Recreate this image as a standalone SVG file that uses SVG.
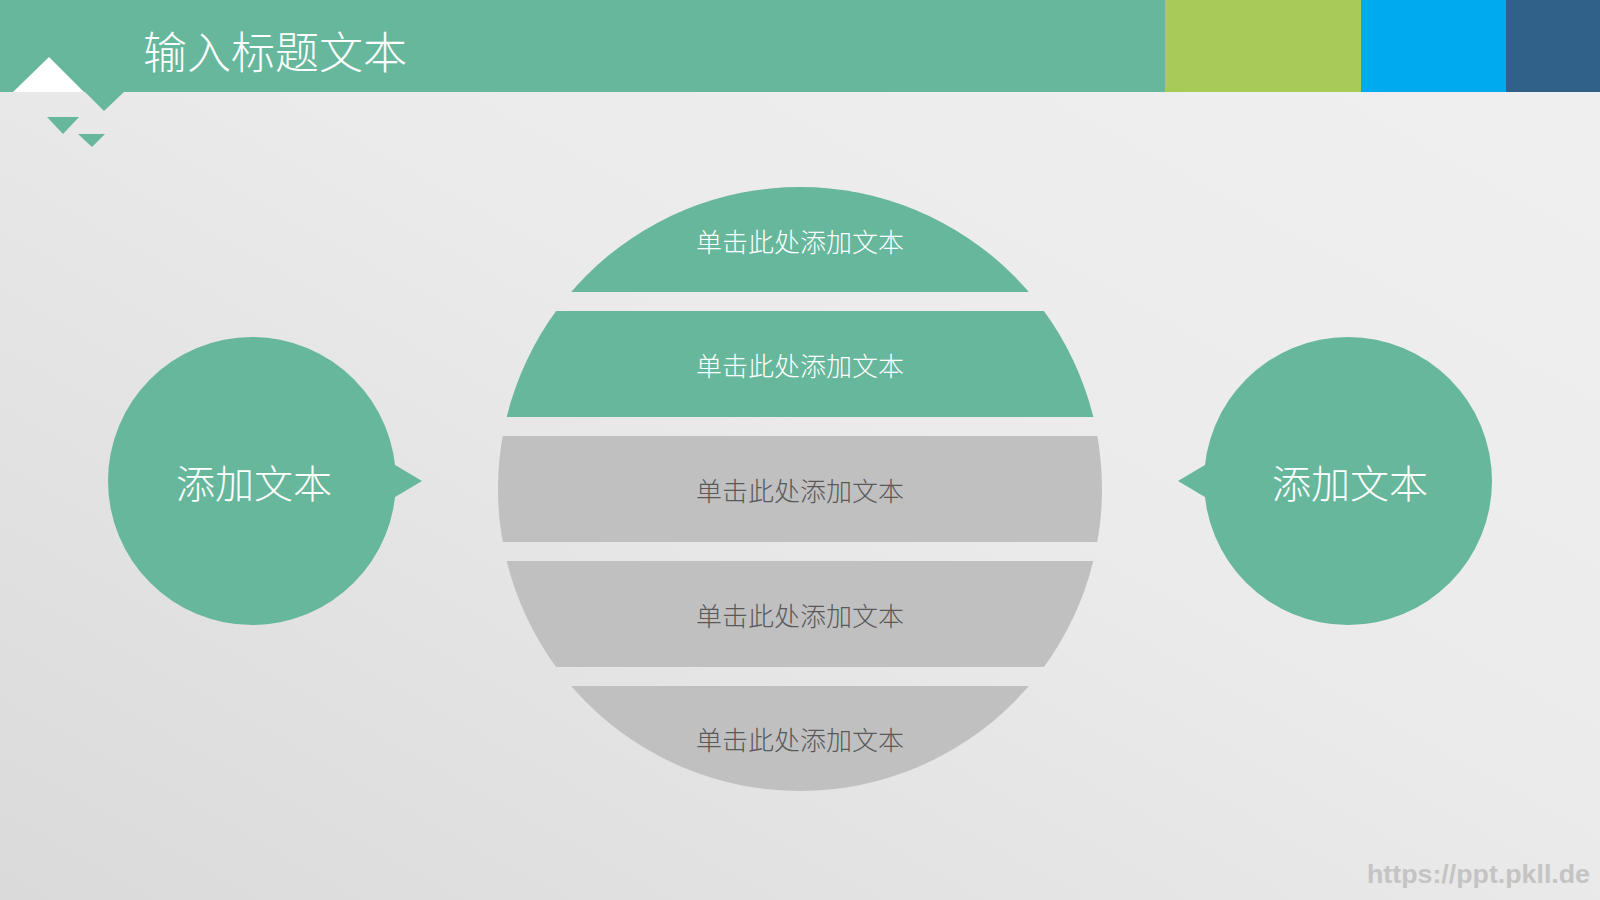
<svg xmlns="http://www.w3.org/2000/svg" width="1600" height="900" viewBox="0 0 1600 900">
  <defs>
    <linearGradient id="bg" x1="0" y1="1" x2="1" y2="0">
      <stop offset="0" stop-color="#DADADA"/>
      <stop offset="0.55" stop-color="#EBEBEB"/>
      <stop offset="1" stop-color="#F0F0F0"/>
    </linearGradient>
    <clipPath id="ballclip">
      <circle cx="800" cy="489" r="302"/>
    </clipPath>
  </defs>
  <style>
    .green { fill: #66B79B; }
    .gray { fill: #C1C0C1; }
    .strip-w { font-family: "Noto Sans CJK SC", sans-serif; font-size: 26px; fill: #FFFFFF; text-anchor: middle; dominant-baseline: central; font-weight: 300; }
    .strip-d { font-family: "Noto Sans CJK SC", sans-serif; font-size: 26px; fill: #595959; text-anchor: middle; dominant-baseline: central; font-weight: 300; }
    .side { font-family: "Noto Sans CJK SC", sans-serif; font-size: 39px; fill: #FFFFFF; text-anchor: middle; dominant-baseline: central; font-weight: 300; }
  </style>
  <rect x="0" y="0" width="1600" height="900" fill="url(#bg)"/>

  <g id="header">
    <rect x="0" y="0" width="1165" height="92" class="green"/>
    <rect x="1165" y="0" width="196" height="92" fill="#A8CA58"/>
    <rect x="1361" y="0" width="145" height="92" fill="#00AAEF"/>
    <rect x="1506" y="0" width="94" height="92" fill="#2F6189"/>
    <polygon points="84,91 125,91 104,111" class="green"/>
    <polygon points="13,92 49,57 84,92" fill="#FFFFFF"/>
    <polygon points="47,117 79,117 63,134" class="green"/>
    <polygon points="78,134 105,134 92,147" class="green"/>
    <text x="143" y="50" font-family="'Noto Sans CJK SC', sans-serif" font-size="44" font-weight="300" fill="#FFFFFF" dominant-baseline="central">输入标题文本</text>
  </g>

  <g id="ball" clip-path="url(#ballclip)">
    <g id="strip1">
      <rect x="490" y="180" width="620" height="112" class="green"/>
    </g>
    <g id="strip2">
      <rect x="490" y="311" width="620" height="106" class="green"/>
    </g>
    <g id="strip3">
      <rect x="490" y="436" width="620" height="106" class="gray"/>
    </g>
    <g id="strip4">
      <rect x="490" y="561" width="620" height="106" class="gray"/>
    </g>
    <g id="strip5">
      <rect x="490" y="686" width="620" height="110" class="gray"/>
    </g>
  </g>
  <g id="strip-labels">
    <text x="800" y="240" class="strip-w">单击此处添加文本</text>
    <text x="800" y="364" class="strip-w">单击此处添加文本</text>
    <text x="800" y="489" class="strip-d">单击此处添加文本</text>
    <text x="800" y="614" class="strip-d">单击此处添加文本</text>
    <text x="800" y="738" class="strip-d">单击此处添加文本</text>
  </g>

  <g id="left-node">
    <circle cx="252" cy="481" r="144" class="green"/>
    <polygon points="390,462 422,481 390,500" class="green"/>
    <text x="254" y="481" class="side">添加文本</text>
  </g>

  <g id="right-node">
    <circle cx="1348" cy="481" r="144" class="green"/>
    <polygon points="1210,462 1178,481 1210,500" class="green"/>
    <text x="1350" y="481" class="side">添加文本</text>
  </g>

  <text id="watermark" x="1367" y="883" font-family="'Liberation Sans', sans-serif" font-size="26" font-weight="bold" fill="#C4C4C4" textLength="223" lengthAdjust="spacingAndGlyphs">https://ppt.pkll.de</text>
</svg>
